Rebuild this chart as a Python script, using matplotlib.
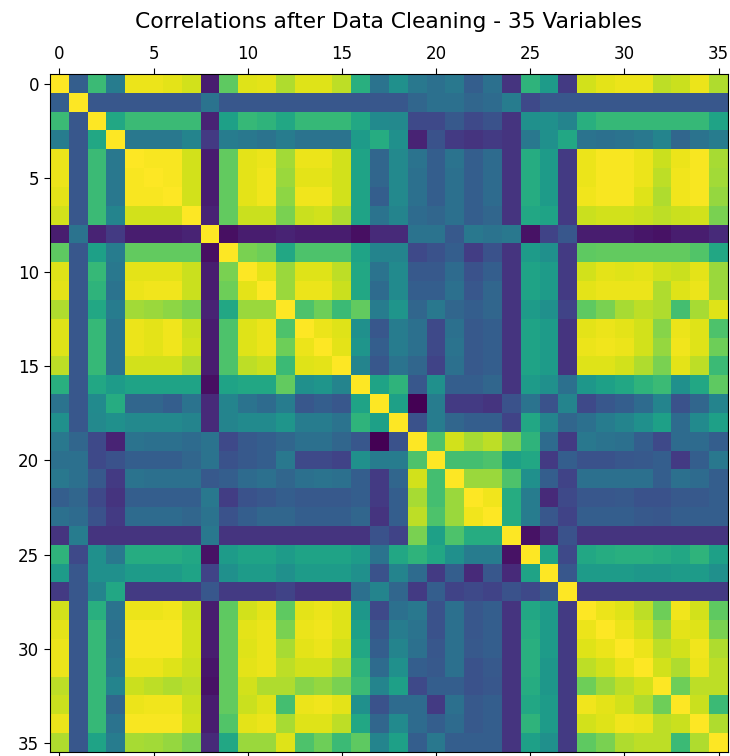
import numpy as np
import matplotlib
matplotlib.use("Agg")
import matplotlib.pyplot as plt

title = "Correlations after Data Cleaning - 35 Variables"

# Upper triangle of the correlation matrix: row i holds columns i..35
upper_rows = [
    [1.00, 0.30, 0.68, 0.42, 0.97, 0.97, 0.96, 0.93, 0.08, 0.75, 0.95, 0.96, 0.88, 0.95, 0.95, 0.90, 0.63, 0.38,
     0.50, 0.40, 0.37, 0.40, 0.30, 0.37, 0.15, 0.65, 0.55, 0.17, 0.93, 0.96, 0.97, 0.97, 0.90, 0.92, 0.97, 0.88],
    [1.00, 0.27, 0.27, 0.27, 0.27, 0.27, 0.27, 0.38, 0.27, 0.27, 0.27, 0.27, 0.27, 0.27, 0.27, 0.27, 0.27,
     0.27, 0.33, 0.37, 0.37, 0.33, 0.35, 0.42, 0.22, 0.27, 0.27, 0.27, 0.27, 0.27, 0.27, 0.27, 0.27, 0.27, 0.27],
    [1.00, 0.60, 0.68, 0.68, 0.68, 0.68, 0.10, 0.57, 0.67, 0.65, 0.60, 0.67, 0.67, 0.67, 0.60, 0.48,
     0.47, 0.22, 0.22, 0.28, 0.22, 0.25, 0.15, 0.50, 0.50, 0.45, 0.63, 0.67, 0.67, 0.67, 0.67, 0.67, 0.67, 0.58],
    [1.00, 0.40, 0.40, 0.40, 0.45, 0.17, 0.42, 0.40, 0.38, 0.42, 0.38, 0.38, 0.38, 0.55, 0.62,
     0.50, 0.10, 0.25, 0.17, 0.15, 0.17, 0.15, 0.40, 0.50, 0.60, 0.38, 0.37, 0.38, 0.40, 0.45, 0.33, 0.38, 0.42],
    [1.00, 0.99, 0.99, 0.93, 0.08, 0.76, 0.96, 0.97, 0.86, 0.97, 0.97, 0.93, 0.58, 0.33,
     0.47, 0.38, 0.30, 0.38, 0.30, 0.35, 0.15, 0.62, 0.55, 0.17, 0.97, 0.99, 0.99, 0.97, 0.92, 0.97, 0.99, 0.87],
    [1.00, 0.99, 0.93, 0.08, 0.76, 0.96, 0.98, 0.85, 0.96, 0.96, 0.93, 0.58, 0.33,
     0.47, 0.37, 0.30, 0.37, 0.30, 0.35, 0.15, 0.62, 0.55, 0.17, 0.97, 0.99, 0.99, 0.97, 0.90, 0.98, 0.99, 0.86],
    [1.00, 0.93, 0.08, 0.76, 0.96, 0.98, 0.83, 0.98, 0.98, 0.93, 0.58, 0.30,
     0.47, 0.37, 0.30, 0.37, 0.30, 0.35, 0.15, 0.62, 0.55, 0.17, 0.98, 0.99, 0.99, 0.95, 0.88, 0.98, 0.99, 0.84],
    [1.00, 0.10, 0.76, 0.92, 0.92, 0.80, 0.92, 0.93, 0.88, 0.58, 0.38,
     0.45, 0.35, 0.33, 0.37, 0.30, 0.33, 0.15, 0.60, 0.58, 0.17, 0.92, 0.93, 0.93, 0.92, 0.90, 0.92, 0.93, 0.80],
    [1.00, 0.04, 0.08, 0.08, 0.10, 0.08, 0.08, 0.08, 0.04, 0.12,
     0.12, 0.38, 0.38, 0.28, 0.40, 0.38, 0.40, 0.05, 0.20, 0.27, 0.08, 0.08, 0.08, 0.06, 0.05, 0.08, 0.08, 0.12],
    [1.00, 0.80, 0.78, 0.60, 0.72, 0.72, 0.72, 0.58, 0.45,
     0.45, 0.22, 0.25, 0.30, 0.18, 0.25, 0.15, 0.55, 0.50, 0.17, 0.75, 0.76, 0.76, 0.76, 0.76, 0.76, 0.73, 0.60],
    [1.00, 0.96, 0.85, 0.95, 0.95, 0.90, 0.60, 0.38,
     0.48, 0.28, 0.28, 0.35, 0.25, 0.30, 0.15, 0.58, 0.55, 0.17, 0.93, 0.96, 0.95, 0.96, 0.93, 0.92, 0.96, 0.85],
    [1.00, 0.85, 0.97, 0.97, 0.92, 0.60, 0.35,
     0.48, 0.30, 0.30, 0.37, 0.27, 0.33, 0.15, 0.58, 0.55, 0.17, 0.96, 0.97, 0.97, 0.97, 0.88, 0.95, 0.97, 0.85],
    [1.00, 0.72, 0.78, 0.68, 0.76, 0.42,
     0.52, 0.33, 0.40, 0.33, 0.30, 0.33, 0.15, 0.55, 0.50, 0.20, 0.75, 0.80, 0.87, 0.90, 0.88, 0.70, 0.87, 0.95],
    [1.00, 0.97, 0.95, 0.50, 0.27,
     0.42, 0.37, 0.22, 0.37, 0.28, 0.30, 0.15, 0.58, 0.55, 0.15, 0.96, 0.97, 0.96, 0.93, 0.82, 0.97, 0.95, 0.72],
    [1.00, 0.96, 0.52, 0.30,
     0.42, 0.37, 0.22, 0.38, 0.28, 0.30, 0.15, 0.58, 0.55, 0.15, 0.97, 0.98, 0.97, 0.93, 0.84, 0.98, 0.95, 0.78],
    [1.00, 0.45, 0.27,
     0.38, 0.33, 0.20, 0.37, 0.28, 0.30, 0.15, 0.58, 0.55, 0.15, 0.95, 0.95, 0.93, 0.88, 0.80, 0.96, 0.90, 0.68],
    [1.00, 0.58,
     0.65, 0.27, 0.50, 0.30, 0.30, 0.33, 0.15, 0.55, 0.50, 0.37, 0.53, 0.57, 0.60, 0.65, 0.68, 0.50, 0.60, 0.75],
    [1.00,
     0.57, 0.00, 0.42, 0.17, 0.17, 0.15, 0.25, 0.38, 0.25, 0.45, 0.22, 0.27, 0.30, 0.35, 0.45, 0.25, 0.33, 0.45],
    [1.00, 0.25, 0.42, 0.33, 0.30, 0.30, 0.20, 0.60, 0.45, 0.33, 0.37, 0.42, 0.45, 0.50, 0.57, 0.35, 0.48, 0.57],
    [1.00, 0.72, 0.93, 0.87, 0.90, 0.80, 0.65, 0.35, 0.17, 0.40, 0.38, 0.37, 0.30, 0.22, 0.35, 0.35, 0.30],
    [1.00, 0.70, 0.70, 0.72, 0.57, 0.60, 0.17, 0.30, 0.25, 0.25, 0.27, 0.28, 0.30, 0.17, 0.30, 0.40],
    [1.00, 0.85, 0.85, 0.72, 0.50, 0.30, 0.20, 0.37, 0.37, 0.37, 0.37, 0.30, 0.37, 0.35, 0.30],
    [1.00, 0.98, 0.62, 0.42, 0.12, 0.22, 0.27, 0.27, 0.28, 0.25, 0.25, 0.28, 0.28, 0.30],
    [1.00, 0.62, 0.42, 0.27, 0.20, 0.30, 0.30, 0.30, 0.28, 0.27, 0.30, 0.30, 0.30],
    [1.00, 0.05, 0.12, 0.25, 0.15, 0.15, 0.15, 0.15, 0.15, 0.15, 0.15, 0.15],
    [1.00, 0.58, 0.22, 0.60, 0.62, 0.63, 0.63, 0.62, 0.60, 0.65, 0.57],
    [1.00, 0.27, 0.55, 0.55, 0.55, 0.53, 0.53, 0.55, 0.55, 0.50],
    [1.00, 0.17, 0.17, 0.17, 0.17, 0.17, 0.17, 0.17, 0.17],
    [1.00, 0.97, 0.95, 0.90, 0.78, 0.98, 0.93, 0.75],
    [1.00, 0.97, 0.93, 0.85, 0.96, 0.95, 0.80],
    [1.00, 0.97, 0.90, 0.93, 0.98, 0.88],
    [1.00, 0.93, 0.88, 0.97, 0.90],
    [1.00, 0.78, 0.90, 0.90],
    [1.00, 0.92, 0.68],
    [1.00, 0.88],
    [1.00],
]

n = len(upper_rows)
corr = np.zeros((n, n))
for i, row in enumerate(upper_rows):
    corr[i, i:] = row
    corr[i:, i] = row

fig = plt.figure(figsize=(7.3, 7.56), dpi=100)
ax = fig.add_axes([50 / 730, 3.6 / 756, 678 / 730, 678 / 756])
ax.matshow(corr, cmap="viridis")
ax.set_title(title, fontsize=15.7, pad=12.5)
ax.tick_params(labelsize=12, length=4.5)
fig.savefig("out.png", dpi=100)
